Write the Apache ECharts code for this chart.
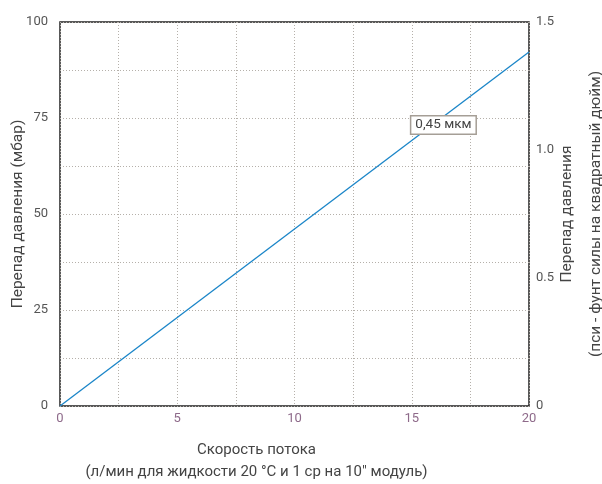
<!DOCTYPE html>
<html><head><meta charset="utf-8">
<script src="https://cdn.jsdelivr.net/npm/echarts@6/dist/echarts.min.js"></script>
<style>html,body{margin:0;padding:0;background:#fff}#c{width:602px;height:484px}</style>
</head><body><div id="c"></div>
<script>
const flowRate = [0, 20];
const pressureDrop = [0, 92.2];
const xTicks = [0, 5, 10, 15, 20];
const leftTicks = [0, 25, 50, 75, 100];
const rightTicks = [0, 0.5, 1.0, 1.5];
const seriesLabel = '0,45 мкм';
const labelAt = [16.35, 73.2];
const FONT = 'Roboto';

const chart = echarts.init(document.getElementById('c'));
const gridCol = '#b5b0aa';
chart.setOption({
  animation: false,
  textStyle: {fontFamily: FONT},
  grid: {left: 60, right: 73, top: 22, bottom: 78, outerBoundsMode: 'none', containLabel: false,
    show: true, borderColor: '#222', borderWidth: 1.5, backgroundColor: 'transparent'},
  xAxis: [{
    type: 'value', min: 0, max: 20, interval: 2.5,
    name: 'Скорость потока\n(л/мин для жидкости 20 °C и 1 ср на 10" модуль)',
    nameLocation: 'middle', nameGap: 33, nameMoveOverlap: false,
    nameTextStyle: {color: '#444', fontSize: 15, lineHeight: 22, fontFamily: FONT, padding: [0, 76, 0, 0]},
    axisLine: {show: false}, axisTick: {show: false},
    axisLabel: {color: '#8e6a8a', fontSize: 13, margin: 6, fontFamily: FONT,
      formatter: v => xTicks.includes(v) ? String(v) : ''},
    splitLine: {show: true, lineStyle: {color: gridCol, type: [1, 2], width: 1}}
  }],
  yAxis: [{
    type: 'value', min: 0, max: 100, interval: 12.5,
    name: 'Перепад давления (мбар)', nameLocation: 'middle', nameGap: 34, nameMoveOverlap: false,
    nameTextStyle: {color: '#444', fontSize: 15.5, fontFamily: FONT},
    axisLine: {show: false}, axisTick: {show: false},
    axisLabel: {color: '#555', fontSize: 13, margin: 12, fontFamily: FONT,
      formatter: v => leftTicks.includes(v) ? String(v) : ''},
    splitLine: {show: true, lineStyle: {color: gridCol, type: [1, 2], width: 1}}
  }, {
    type: 'value', min: 0, max: 1.5, interval: 0.5, position: 'right',
    name: 'Перепад давления\n(пси - фунт силы на квадратный дюйм)', nameLocation: 'middle', nameGap: 24,
    nameRotate: 90, nameMoveOverlap: false,
    nameTextStyle: {color: '#444', fontSize: 15.5, lineHeight: 29, fontFamily: FONT},
    axisLine: {show: false}, axisTick: {show: false},
    axisLabel: {color: '#555', fontSize: 13, margin: 7, fontFamily: FONT,
      formatter: v => rightTicks.includes(v) ? (v === 0 ? '0' : v.toFixed(1)) : ''},
    splitLine: {show: false}
  }],
  series: [{
    type: 'line', xAxisIndex: 0, yAxisIndex: 0,
    data: flowRate.map((x, i) => [x, pressureDrop[i]]),
    showSymbol: false, lineStyle: {color: '#1a85c8', width: 1.3},
    markPoint: {
      symbol: 'rect', symbolSize: 1, itemStyle: {color: 'transparent'},
      data: [{coord: labelAt, value: seriesLabel}],
      label: {show: true, position: 'inside', formatter: seriesLabel, color: '#444', fontSize: 13.5,
        fontFamily: FONT, backgroundColor: '#fff', borderColor: '#a59e96', borderWidth: 1.5,
        padding: [2, 4, 1, 4]}
    }
  }]
});
</script></body></html>
